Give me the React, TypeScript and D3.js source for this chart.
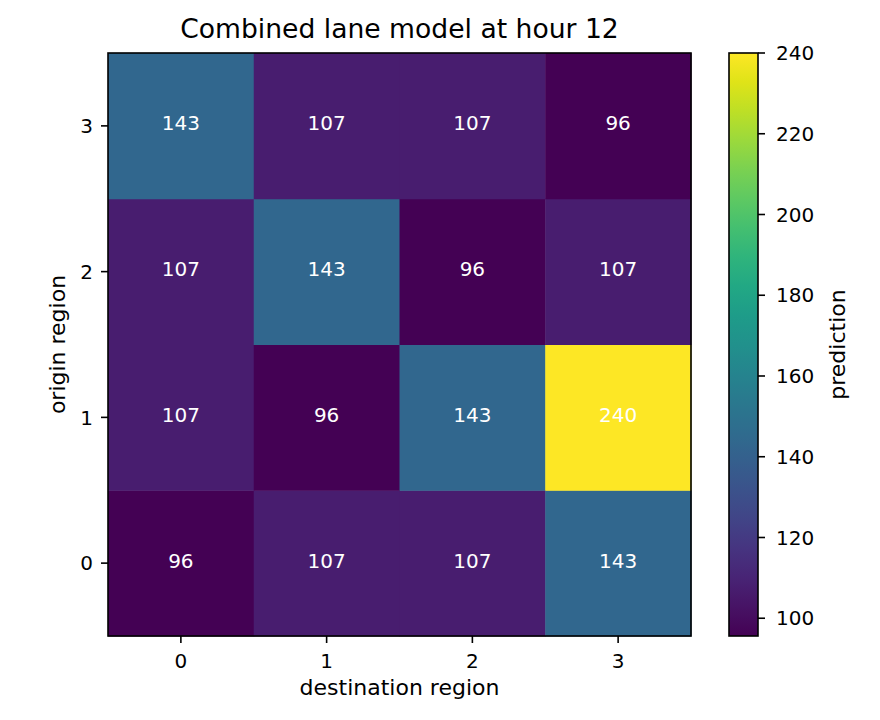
import React from 'react';
import * as d3 from 'd3';

// origin rows (0..3) x destination columns (0..3)
const origins = [0, 1, 2, 3];
const destinations = [0, 1, 2, 3];
const predictions: number[][] = [
    [95.6, 107, 107, 143], // origin 0
    [107, 95.6, 143, 240], // origin 1
    [107, 143, 95.6, 107], // origin 2
    [143, 107, 107, 95.6], // origin 3
];
const colorbarTicks = [100, 120, 140, 160, 180, 200, 220, 240];

const title = 'Combined lane model at hour 12';
const xLabel = 'destination region';
const yLabel = 'origin region';
const cbLabel = 'prediction';

const W = 880;
const H = 720;
const plot = { left: 108, right: 691, top: 53, bottom: 636 };
const cb = { left: 729, right: 758, top: 53, bottom: 636 };
const font = 'DejaVu Sans, sans-serif';
const tickSize = 20;   // tick labels + cell annotations
const labelSize = 22;  // axis labels
const titleSize = 26.6;
const lw = 1.6;
const tickLen = 7;

export default function App() {
    const flat = predictions.flat();
    const vmin = d3.min(flat) as number;
    const vmax = d3.max(flat) as number;

    const x = d3.scaleBand<number>().domain(destinations).range([plot.left, plot.right]);
    const y = d3.scaleBand<number>().domain(origins).range([plot.bottom, plot.top]);
    const color = d3.scaleSequential(d3.interpolateViridis).domain([vmin, vmax]);
    const cbY = d3.scaleLinear().domain([vmin, vmax]).range([cb.bottom, cb.top]);
    const fmt = d3.format('.0f');

    const stops = d3.range(0, 1.0001, 0.05);

    const cells = origins.flatMap(o => destinations.map(d => ({ o, d, v: predictions[o][d] })));

    return (
        <div style={{ position: 'absolute', left: 0, top: 0 }}>
            <svg width={W} height={H} style={{ display: 'block', fontFamily: font }}>
                <defs>
                    <linearGradient id="viridis" x1="0" y1="1" x2="0" y2="0">
                        {stops.map(t => (
                            <stop key={t} offset={t} stopColor={d3.interpolateViridis(t)} />
                        ))}
                    </linearGradient>
                </defs>
                <rect width={W} height={H} fill="#fff" />

                {cells.map(c => (
                    <g key={`${c.o}-${c.d}`}>
                        <rect
                            x={x(c.d)}
                            y={y(c.o)}
                            width={x.bandwidth() + 0.5}
                            height={y.bandwidth() + 0.5}
                            fill={color(c.v)}
                        />
                        <text
                            x={(x(c.d) as number) + x.bandwidth() / 2}
                            y={(y(c.o) as number) + y.bandwidth() / 2}
                            dy="0.22em"
                            textAnchor="middle"
                            fill="#fff"
                            fontSize={tickSize}
                        >
                            {fmt(c.v)}
                        </text>
                    </g>
                ))}
                <rect x={plot.left} y={plot.top} width={plot.right - plot.left} height={plot.bottom - plot.top}
                    fill="none" stroke="#000" strokeWidth={lw} />

                {/* x axis */}
                {destinations.map(d => {
                    const cx = (x(d) as number) + x.bandwidth() / 2;
                    return (
                        <g key={`x${d}`}>
                            <line x1={cx} x2={cx} y1={plot.bottom} y2={plot.bottom + tickLen} stroke="#000" strokeWidth={lw} />
                            <text x={cx} y={668} textAnchor="middle" fontSize={tickSize} fill="#000">{d}</text>
                        </g>
                    );
                })}
                <text x={(plot.left + plot.right) / 2} y={695} textAnchor="middle" fontSize={labelSize} fill="#000">{xLabel}</text>

                {/* y axis */}
                {origins.map(o => {
                    const cy = (y(o) as number) + y.bandwidth() / 2;
                    return (
                        <g key={`y${o}`}>
                            <line x1={plot.left - tickLen} x2={plot.left} y1={cy} y2={cy} stroke="#000" strokeWidth={lw} />
                            <text x={plot.left - 15} y={cy} dy="0.36em" textAnchor="end" fontSize={tickSize} fill="#000">{o}</text>
                        </g>
                    );
                })}
                <text transform={`translate(65,${(plot.top + plot.bottom) / 2}) rotate(-90)`} textAnchor="middle" fontSize={labelSize} fill="#000">{yLabel}</text>

                <text x={(plot.left + plot.right) / 2} y={38} textAnchor="middle" fontSize={titleSize} fill="#000">{title}</text>

                {/* colorbar */}
                <rect x={cb.left} y={cb.top} width={cb.right - cb.left} height={cb.bottom - cb.top} fill="url(#viridis)" />
                <rect x={cb.left} y={cb.top} width={cb.right - cb.left} height={cb.bottom - cb.top} fill="none" stroke="#000" strokeWidth={lw} />
                {colorbarTicks.map(t => (
                    <g key={`c${t}`}>
                        <line x1={cb.right} x2={cb.right + tickLen} y1={cbY(t)} y2={cbY(t)} stroke="#000" strokeWidth={lw} />
                        <text x={cb.right + 18} y={cbY(t)} dy="0.36em" fontSize={tickSize} fill="#000">{t}</text>
                    </g>
                ))}
                <text transform={`translate(845,${(cb.top + cb.bottom) / 2}) rotate(-90)`} textAnchor="middle" fontSize={labelSize} fill="#000">{cbLabel}</text>
            </svg>
        </div>
    );
}
